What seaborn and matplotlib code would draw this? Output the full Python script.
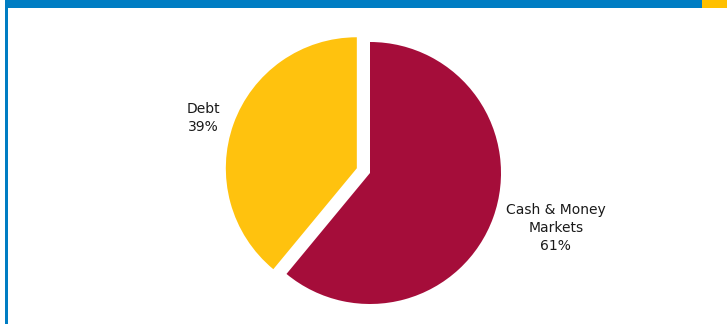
import numpy as np
import matplotlib
matplotlib.use("Agg")
import matplotlib.pyplot as plt
import matplotlib.patches as mpatches
import seaborn as sns

# Asset mix data
categories = ["Cash & Money\nMarkets", "Debt"]
shares = [61, 39]
colors = ["#A50D3A", "#FFC20E"]

sns.set_style("white")
plt.rcParams['font.family'] = ['DejaVu Sans']

fig = plt.figure(figsize=(7.27, 3.24), dpi=100)
ax = fig.add_axes([0, 0, 1, 1])
ax.axis("off")

# header band and frame
ax.add_patch(mpatches.Rectangle((5, 316), 697, 8, color="#007DC3", lw=0))
ax.add_patch(mpatches.Rectangle((702, 316), 25, 8, color="#FFC000", lw=0))
ax.add_patch(mpatches.Rectangle((5, 0), 2.5, 324, color="#007DC3", lw=0))
ax.text(22, 322, "Asset Mix", color="white", fontsize=11, fontweight="bold",
        va="bottom", ha="left", clip_on=False)

# pie (explode is in data units here, i.e. pixels)
center = (370, 151)
radius = 131
wedges, _ = ax.pie(shares, colors=colors, startangle=90, counterclock=False,
                   explode=[0, 14], center=center, radius=radius,
                   wedgeprops=dict(linewidth=0))

# label distance (in radii) and small angle nudge per slice
label_dist = [1.48, 1.235]
label_nudge = [3.3, 1.7]
for w, cat, pct, d, nd in zip(wedges, categories, shares, label_dist, label_nudge):
    ang = np.deg2rad((w.theta1 + w.theta2) / 2 + nd)
    cx, cy = w.center
    x = cx + d * radius * np.cos(ang)
    y = cy + d * radius * np.sin(ang)
    ax.text(x, y, f"{cat}\n{pct}%", ha="center", va="center", fontsize=10,
            color="#1a1a1a", linespacing=1.4)

ax.set_xlim(0, 727)
ax.set_ylim(0, 324)
ax.set_aspect("auto")

fig.savefig("out.png", dpi=100)
